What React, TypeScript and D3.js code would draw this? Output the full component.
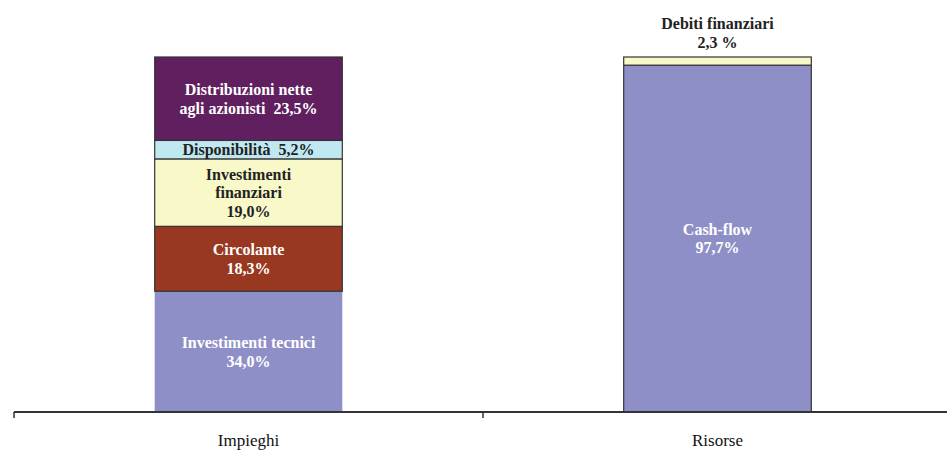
import React from "react";
import * as d3 from "d3";

const categories = ["Impieghi", "Risorse"];

const impieghiLabels = [
  ["Investimenti tecnici", "34,0%"],
  ["Circolante", "18,3%"],
  ["Investimenti", "finanziari", "19,0%"],
  ["Disponibilità  5,2%"],
  ["Distribuzioni nette", "agli azionisti  23,5%"],
];
const impieghiValues = [34.0, 18.3, 19.0, 5.2, 23.5];

const risorseLabels = [
  ["Cash-flow", "97,7%"],
  ["Debiti finanziari", "2,3 %"],
];
const risorseValues = [97.7, 2.3];

const impieghiColors = ["#8F8FC8", "#983820", "#F8F8C8", "#C0E8F0", "#602060"];
const impieghiText = ["#ffffff", "#ffffff", "#222222", "#222222", "#ffffff"];
const risorseColors = ["#8F8FC8", "#F8F8C8"];
const risorseText = ["#ffffff", "#222222"];

const W = 947;
const H = 450;

export default function App() {
  const x = d3.scaleBand().domain(categories).range([14, 952]).paddingInner(0).paddingOuter(0);
  const y = d3.scaleLinear().domain([0, 100]).range([412, 57]);
  const bw = x.bandwidth() * 0.4;
  const lh = 18.5;

  const stacks = [
    { cat: "Impieghi", values: impieghiValues, labels: impieghiLabels, colors: impieghiColors, text: impieghiText },
    { cat: "Risorse", values: risorseValues, labels: risorseLabels, colors: risorseColors, text: risorseText },
  ];

  const fontStyle = { fontFamily: "Liberation Serif, serif", whiteSpace: "pre" as const };

  return (
    <svg width={W} height={H} style={{ position: "absolute", left: 0, top: 0, display: "block" }}>
      <rect width={W} height={H} fill="#ffffff" />
      {stacks.map((s) => {
        const x0 = (x(s.cat) as number) + (x.bandwidth() - bw) / 2;
        const cx = x0 + bw / 2;
        let acc = 0;
        return (
          <g key={s.cat}>
            {s.values.map((v, i) => {
              const y0 = y(acc);
              const y1 = y(acc + v);
              acc += v;
              const bordered = !(s.cat === "Impieghi" && i === 0);
              const outside = s.cat === "Risorse" && i === s.values.length - 1;
              const lines = s.labels[i];
              const mid = (y0 + y1) / 2;
              const startY = outside
                ? y1 - 15 - (lines.length - 1) * lh
                : mid - ((lines.length - 1) * lh) / 2;
              return (
                <g key={i}>
                  <rect
                    x={x0}
                    y={y1}
                    width={bw}
                    height={y0 - y1}
                    fill={s.colors[i]}
                    stroke={bordered ? "#333333" : "none"}
                    strokeWidth={1.2}
                  />
                  <text
                    x={cx}
                    textAnchor="middle"
                    style={fontStyle}
                    fontWeight="bold"
                    fontSize={16}
                    fill={outside ? "#222222" : s.text[i]}
                  >
                    {lines.map((l, k) => (
                      <tspan key={k} x={cx} y={startY + k * lh} dy="0.35em">
                        {l}
                      </tspan>
                    ))}
                  </text>
                </g>
              );
            })}
          </g>
        );
      })}
      <line x1={14} x2={952} y1={412} y2={412} stroke="#333333" strokeWidth={2} />
      {[14, 483, 952].map((t) => (
        <line key={t} x1={t} x2={t} y1={412} y2={418} stroke="#333333" strokeWidth={1.5} />
      ))}
      {categories.map((c) => (
        <text
          key={c}
          x={(x(c) as number) + x.bandwidth() / 2}
          y={446}
          textAnchor="middle"
          style={fontStyle}
          fontSize={17}
          fill="#111111"
        >
          {c}
        </text>
      ))}
    </svg>
  );
}
